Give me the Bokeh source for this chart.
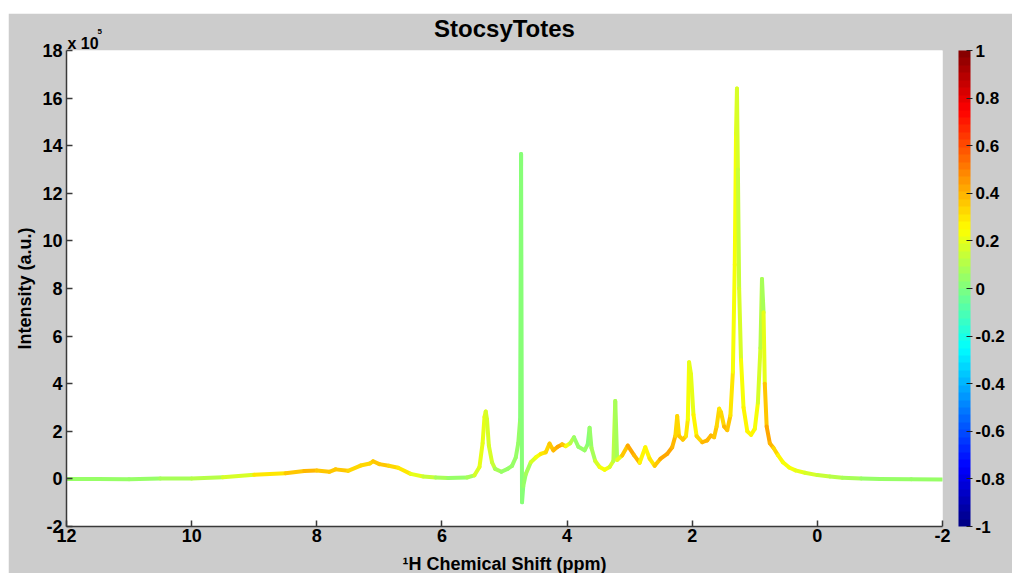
import numpy as np
from bokeh.plotting import figure
from bokeh.models import (Range1d, FixedTicker, LinearColorMapper, ColorBar, Title,
                          PrintfTickFormatter, ColumnDataSource)
from bokeh.transform import linear_cmap
from bokeh.embed import file_html
from bokeh.resources import INLINE

# ---- data (intensity in units of 1e5) ----
ppm = [12.0, 11.5, 11.0, 10.5, 10.0, 9.5, 9.0, 8.5, 8.2, 8.0, 7.8, 7.7, 7.5, 7.3, 7.15, 7.1,
       7.0, 6.85, 6.7, 6.5, 6.3, 6.1, 5.9, 5.6, 5.48, 5.40, 5.35, 5.32, 5.30, 5.28, 5.25, 5.2,
       5.15, 5.05, 4.95, 4.88, 4.82, 4.78, 4.75, 4.735, 4.72, 4.70, 4.66, 4.58, 4.5, 4.42,
       4.34, 4.28, 4.22, 4.15, 4.08, 4.02, 3.95, 3.89, 3.82, 3.72, 3.67, 3.64, 3.61, 3.55,
       3.48, 3.4, 3.32, 3.26, 3.23, 3.20, 3.12, 3.03, 2.93, 2.84, 2.75, 2.68, 2.60, 2.51,
       2.40, 2.32, 2.27, 2.24, 2.21, 2.15, 2.10, 2.07, 2.05, 2.02, 1.98, 1.93, 1.84, 1.76,
       1.70, 1.65, 1.61, 1.57, 1.54, 1.49, 1.44, 1.39, 1.35, 1.32, 1.30, 1.285, 1.27, 1.25,
       1.22, 1.18, 1.12, 1.06, 1.00, 0.95, 0.91, 0.885, 0.86, 0.84, 0.81, 0.76, 0.70, 0.63,
       0.55, 0.45, 0.35, 0.2, 0.0, -0.2, -0.4, -0.7, -1.0, -1.5, -2.0]
intensity = [0.00, 0.00, -0.01, 0.02, 0.02, 0.07, 0.17, 0.24, 0.33, 0.35, 0.30, 0.40, 0.34,
             0.56, 0.65, 0.74, 0.62, 0.55, 0.47, 0.21, 0.10, 0.06, 0.04, 0.06, 0.15, 0.50,
             1.5, 2.6, 2.83, 2.5, 1.4, 0.7, 0.42, 0.3, 0.42, 0.55, 0.9, 1.5, 2.5, 13.65,
             -0.98, -0.3, 0.2, 0.7, 0.9, 1.05, 1.12, 1.48, 1.2, 1.35, 1.45, 1.38, 1.5, 1.75,
             1.35, 1.2, 1.45, 2.15, 1.3, 0.75, 0.5, 0.38, 0.5, 0.75, 3.27, 0.8, 0.98, 1.40,
             1.0, 0.68, 1.33, 0.85, 0.55, 0.84, 1.05, 1.33, 1.8, 2.64, 1.8, 1.65, 1.8, 2.5,
             4.9, 4.4, 2.7, 1.8, 1.54, 1.62, 1.82, 1.75, 2.2, 2.95, 2.8, 2.2, 2.05, 2.66, 4.5,
             9.0, 14.5, 16.4, 13.0, 8.0, 5.0, 3.0, 2.0, 1.85, 2.1, 3.2, 5.5, 8.4, 7.0, 4.0,
             2.2, 1.5, 1.3, 1.0, 0.7, 0.48, 0.36, 0.26, 0.16, 0.1, 0.05, 0.02, 0.0, -0.01,
             -0.02]
corr = [0.05, 0.04, 0.05, 0.06, 0.08, 0.12, 0.25, 0.32, 0.38, 0.38, 0.36, 0.38, 0.36, 0.32,
        0.33, 0.35, 0.34, 0.35, 0.33, 0.25, 0.18, 0.08, 0.05, 0.05, 0.12, 0.2, 0.22, 0.2,
        0.18, 0.17, 0.2, 0.15, 0.1, 0.07, 0.05, 0.05, 0.05, 0.04, 0.03, 0.02, 0.02, 0.04,
        0.06, 0.12, 0.2, 0.28, 0.3, 0.35, 0.38, 0.4, 0.42, 0.3, 0.15, 0.06, 0.05, 0.06,
        0.03, 0.02, 0.05, 0.12, 0.22, 0.25, 0.22, 0.15, 0.05, 0.1, 0.3, 0.4, 0.42, 0.35,
        0.2, 0.3, 0.3, 0.42, 0.45, 0.42, 0.38, 0.3, 0.35, 0.38, 0.35, 0.25, 0.2, 0.2, 0.22,
        0.3, 0.38, 0.38, 0.38, 0.38, 0.35, 0.28, 0.3, 0.38, 0.38, 0.35, 0.25, 0.22, 0.22,
        0.2, 0.15, 0.12, 0.2, 0.25, 0.25, 0.25, 0.25, 0.22, 0.15, 0.08, 0.1, 0.3, 0.42,
        0.4, 0.35, 0.3, 0.25, 0.22, 0.22, 0.2, 0.15, 0.12, 0.08, 0.06, 0.05, 0.05, 0.05]

x_ticks = [12, 10, 8, 6, 4, 2, 0, -2]
y_ticks = [-2, 0, 2, 4, 6, 8, 10, 12, 14, 16, 18]
cbar_ticks = [-1, -0.8, -0.6, -0.4, -0.2, 0, 0.2, 0.4, 0.6, 0.8, 1]


def jet(n=64):
    cols = []
    for i in range(n):
        t = (i + 0.5) / n
        r = min(1, max(0, 1.5 - abs(4 * t - 3)))
        g = min(1, max(0, 1.5 - abs(4 * t - 2)))
        b = min(1, max(0, 1.5 - abs(4 * t - 1)))
        cols.append("#%02x%02x%02x" % (int(r * 255), int(g * 255), int(b * 255)))
    return cols


palette = jet(64)
FONT = "Liberation Sans"

xs = np.array(ppm, dtype=float)
ys = np.array(intensity, dtype=float)
cs = np.array(corr, dtype=float)
src = ColumnDataSource(dict(x0=xs[:-1], x1=xs[1:], y0=ys[:-1], y1=ys[1:],
                            c=(cs[:-1] + cs[1:]) / 2))

p = figure(frame_width=876, frame_height=476,
           x_range=Range1d(12, -2), y_range=Range1d(-2, 18),
           output_backend="svg", toolbar_location=None, title=None,
           min_border_left=58, min_border_top=37, min_border_bottom=47, min_border_right=70)
p.margin = (13, 0, 0, 8)
p.border_fill_color = "#cccccc"
p.background_fill_color = "white"
p.outline_line_color = None
p.xgrid.visible = False
p.ygrid.visible = False


def make_title(text, size, align, offset, standoff):
    t = Title(text=text, align=align, offset=offset, vertical_align="bottom",
              text_font=FONT, text_font_size=size, text_font_style="bold",
              text_color="black")
    try:
        t.standoff = standoff
    except Exception:
        t.standoff = 0
    return t


# stacked from the frame outwards: exponent base, exponent, main title, padding
p.add_layout(make_title("x 10", "16px", "left", 1, -2), "above")
p.add_layout(make_title("5", "8px", "left", 31, -1), "above")
p.add_layout(make_title("StocsyTotes", "24px", "center", 0, -28), "above")
p.add_layout(make_title(" ", "8px", "left", 0, 0.8), "above")

p.segment(x0="x0", y0="y0", x1="x1", y1="y1", source=src, line_width=4,
          line_cap="round", line_color=linear_cmap("c", palette, -1, 1))

for ax in (p.xaxis[0], p.yaxis[0]):
    ax.axis_line_color = "#3a3a3a"
    ax.axis_line_width = 1.5
    ax.major_tick_line_color = "#3a3a3a"
    ax.major_tick_line_width = 1.5
    ax.major_tick_in = 6
    ax.major_tick_out = 0
    ax.minor_tick_in = 0
    ax.minor_tick_out = 0
    ax.major_label_text_font = FONT
    ax.major_label_text_font_size = "18px"
    ax.major_label_text_font_style = "bold"
    ax.major_label_text_color = "black"
    ax.axis_label_text_font = FONT
    ax.axis_label_text_font_size = "18px"
    ax.axis_label_text_font_style = "bold"
    ax.axis_label_text_color = "black"

p.xaxis.ticker = FixedTicker(ticks=x_ticks)
p.yaxis.ticker = FixedTicker(ticks=y_ticks)
p.xaxis.major_label_overrides = {t: str(t) for t in x_ticks}
p.yaxis.major_label_overrides = {t: str(t) for t in y_ticks}
p.xaxis.major_label_standoff = 2
p.yaxis.major_label_standoff = 4
p.xaxis.axis_label = "¹H Chemical Shift (ppm)"
p.yaxis.axis_label = "Intensity (a.u.)"
p.xaxis.axis_label_standoff = 9
p.yaxis.axis_label_standoff = 4

mapper = LinearColorMapper(palette=palette, low=-1, high=1)
cb = ColorBar(color_mapper=mapper, width=12, height=476, location=(16, 0),
              ticker=FixedTicker(ticks=cbar_ticks),
              formatter=PrintfTickFormatter(format="%g"),
              major_label_text_font=FONT, major_label_text_font_size="17px",
              major_label_text_font_style="bold", major_label_text_color="black",
              major_tick_line_color="#222222", major_tick_line_width=1,
              major_tick_in=4, major_tick_out=2,
              label_standoff=3, padding=0, margin=0,
              background_fill_color=None, border_line_color=None, bar_line_color=None)
p.add_layout(cb, "right")

open("out.html", "w").write(file_html(p, INLINE))
